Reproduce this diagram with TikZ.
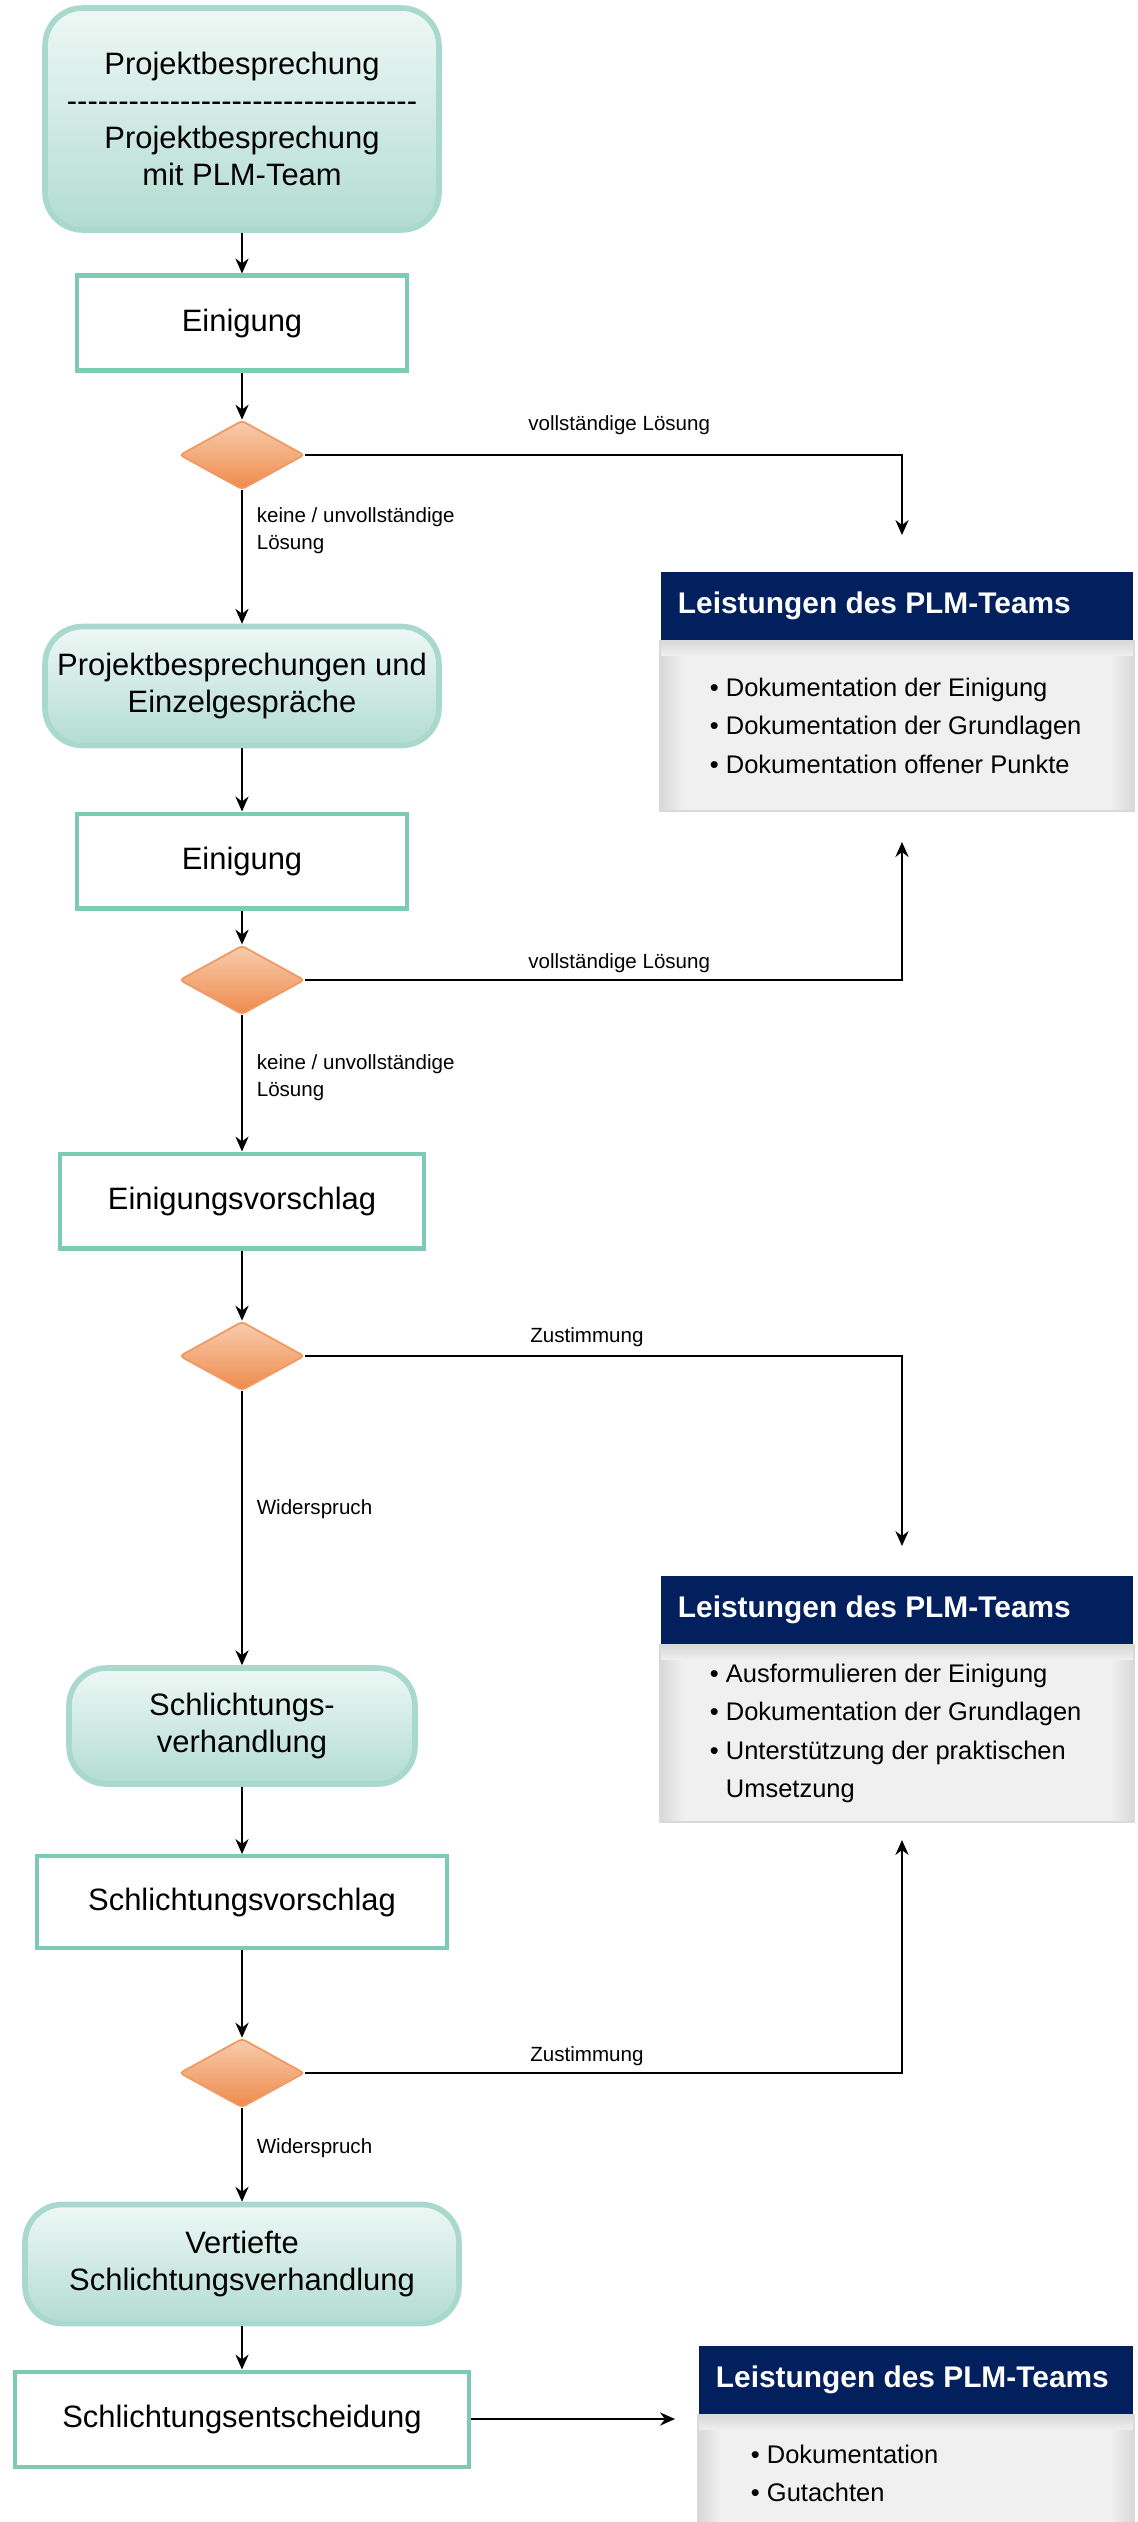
\documentclass[tikz,border=0pt]{standalone}
\usepackage{fontspec}
\setmainfont{Liberation Sans}
\usetikzlibrary{shapes.geometric,arrows.meta}
\definecolor{rahmen}{HTML}{7ECBB5}
\definecolor{rundrand}{HTML}{A9D9CD}
\definecolor{rundoben}{HTML}{EEF8F5}
\definecolor{rundunten}{HTML}{B2DCD1}
\definecolor{rautehell}{HTML}{F8CDAE}
\definecolor{rautedunkel}{HTML}{EE8A4B}
\definecolor{rauterand}{HTML}{EF9A63}
\definecolor{plmblau}{HTML}{021F5E}
\definecolor{grau}{HTML}{F0F0F0}
\definecolor{grauschatten}{HTML}{D8D8D8}
\newcommand\strichlinie{\foreach \i in {1,...,34}{-\kern0pt}}
\tikzset{
  rund/.style={rounded corners=0.75cm, draw=rundrand, line width=3.2pt, top color=rundoben, bottom color=rundunten, align=center, font=\fontsize{17.6}{21}\selectfont, minimum width=7.88cm},
  kasten/.style={draw=rahmen, line width=2.3pt, fill=white, align=center, font=\fontsize{17.6}{21}\selectfont, minimum height=1.9cm},
  raute/.style={diamond, draw=rauterand, line width=1pt, top color=rautehell, bottom color=rautedunkel, minimum width=2.5cm, minimum height=1.38cm, inner sep=0pt, rounded corners=2pt},
  lbl/.style={font=\fontsize{11.7}{15.3}\selectfont, align=left},
  kopf/.style={fill=plmblau, minimum height=1.36cm, inner sep=0pt},
  kopftext/.style={text=white, font=\bfseries\fontsize{17}{20}\selectfont, inner sep=0pt},
  koerper/.style={fill=grau, inner sep=0pt},
  liste/.style={font=\fontsize{14.5}{22}\selectfont, align=left, inner sep=0pt}
}
\begin{document}
\begin{tikzpicture}[>={Stealth[length=8.5pt,width=7.5pt]}, x=0.02cm, y=-0.02cm, line width=1.1pt]
\useasboundingbox (0,0) rectangle (1138,2522);
\clip (0,0) rectangle (1138,2522);
% Ablauf
\node[rund, minimum height=4.44cm] (pb) at (242,119) {Projektbesprechung\\\strichlinie\\Projektbesprechung\\mit PLM-Team};
\node[kasten, minimum width=6.6cm] (ein1) at (242,323) {Einigung};
\node[raute] (d1) at (242,455) {};
\node[rund, minimum height=2.38cm] (pbe) at (242,686) {Projektbesprechungen und\\Einzelgespräche};
\node[kasten, minimum width=6.6cm] (ein2) at (242,861) {Einigung};
\node[raute] (d2) at (242,980) {};
\node[kasten, minimum width=7.3cm] (vor) at (242,1201) {Einigungsvorschlag};
\node[raute] (d3) at (242,1356) {};
\node[rund, minimum width=6.92cm, minimum height=2.32cm] (sv) at (242,1726) {Schlichtungs-\\verhandlung};
\node[kasten, minimum width=8.2cm, minimum height=1.84cm] (svor) at (242,1902) {Schlichtungsvorschlag};
\node[raute] (d4) at (242,2073) {};
\node[rund, minimum width=8.68cm, minimum height=2.38cm] (vsv) at (242,2264) {Vertiefte\\Schlichtungsverhandlung};
\node[kasten, minimum width=9.1cm] (sent) at (242,2419) {Schlichtungsentscheidung};
% Leistungen
\node[kopf, minimum width=9.44cm, anchor=north west] (k1) at (660,571) {};
\node[kopftext, anchor=west] (kt1) at ([xshift=0.34cm]k1.west) {Leistungen des PLM-Teams};
\node[koerper, minimum width=9.44cm, minimum height=3.36cm, anchor=north west] (b1) at (k1.south west) {};
\node[kopf, minimum width=9.44cm, anchor=north west] (k2) at (660,1575) {};
\node[kopftext, anchor=west] (kt2) at ([xshift=0.34cm]k2.west) {Leistungen des PLM-Teams};
\node[koerper, minimum width=9.44cm, minimum height=3.5cm, anchor=north west] (b2) at (k2.south west) {};
\node[kopf, minimum width=8.68cm, anchor=north west] (k3) at (698,2345) {};
\node[kopftext, anchor=west] (kt3) at ([xshift=0.34cm]k3.west) {Leistungen des PLM-Teams};
\node[koerper, minimum width=8.68cm, minimum height=2.3cm, anchor=north west] (b3) at (k3.south west) {};
\foreach \b in {b1,b2,b3}
{
    \shade[left color=grauschatten, right color=grau] (\b.north west) rectangle ([xshift=0.45cm]\b.south west);
    \shade[left color=grau, right color=grauschatten] ([xshift=-0.45cm]\b.north east) rectangle (\b.south east);
    \shade[top color=grauschatten, bottom color=grau] (\b.north west) rectangle ([yshift=-0.3cm]\b.north east);
    \draw[gray!30, line width=1pt] (\b.north west) rectangle (\b.south east);
}
\node[liste, anchor=west] (li1) at ([xshift=0.98cm]b1.west) {• Dokumentation der Einigung\\• Dokumentation der Grundlagen\\• Dokumentation offener Punkte};
\node[liste, anchor=west] (li2) at ([xshift=0.98cm]b2.west) {• Ausformulieren der Einigung\\• Dokumentation der Grundlagen\\• Unterstützung der praktischen\\\hphantom{•\ }Umsetzung};
\node[liste, anchor=west] (li3) at ([xshift=1.04cm]b3.west) {• Dokumentation\\• Gutachten};
% Pfeile
\coordinate (e1) at (902,535);
\coordinate (e2) at (902,842);
\coordinate (e3) at (902,1546);
\coordinate (e4) at (902,1840);
\coordinate (e5) at (675,2419);
\draw[->] (pb) -- (ein1);
\draw[->] (ein1) -- (d1);
\draw[->] (d1) -- node[lbl, pos=.30, right=0.16cm] (t1) {keine / unvollständige\\Lösung} (pbe);
\draw[->] (d1.east) -| node[lbl, pos=.263, above=0.26cm] (t2) {vollständige Lösung} (e1);
\draw[->] (pbe) -- (ein2);
\draw[->] (ein2) -- (d2);
\draw[->] (d2) -- node[lbl, pos=.46, right=0.16cm] (t3) {keine / unvollständige\\Lösung} (vor);
\draw[->] (d2.east) -| node[lbl, pos=.263, above=0cm] (t4) {vollständige Lösung} (e2);
\draw[->] (vor) -- (d3);
\draw[->] (d3) -- node[lbl, pos=.43, right=0.16cm] (t5) {Widerspruch} (sv);
\draw[->] (d3.east) -| node[lbl, pos=.236, above=0.04cm] (t6) {Zustimmung} (e3);
\draw[->] (sv) -- (svor);
\draw[->] (svor) -- (d4);
\draw[->] (d4) -- node[lbl, pos=.43, right=0.16cm] (t7) {Widerspruch} (vsv);
\draw[->] (d4.east) -| node[lbl, pos=.236, above=0cm] (t8) {Zustimmung} (e4);
\draw[->] (vsv) -- (sent);
\draw[->] (sent) -- (e5);
\end{tikzpicture}
\end{document}
